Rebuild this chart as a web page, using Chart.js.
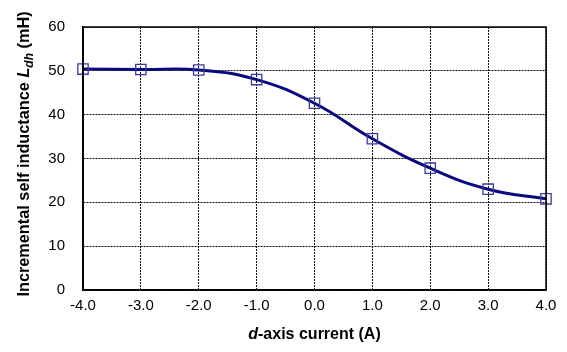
<!DOCTYPE html>
<html><head><meta charset="utf-8">
<script src="https://cdn.jsdelivr.net/npm/chart.js@4/dist/chart.umd.min.js"></script>
<style>html,body{margin:0;padding:0;background:#fff}#wrap{width:567px;height:352px}</style>
</head><body><div id="wrap"><canvas id="c" width="567" height="352"></canvas></div>
<script>
const currents = [-4, -3, -2, -1, 0, 1, 2, 3, 4];
const inductance = [50.4, 50.3, 50.2, 48.0, 42.6, 34.5, 27.8, 23.0, 20.8];
const xTicks = [-4, -3, -2, -1, 0, 1, 2, 3, 4];
const yTicks = [0, 10, 20, 30, 40, 50, 60];

const FONT = '"Liberation Sans", Arial, sans-serif';

const titlesPlugin = {
  id: 'titles',
  afterDraw(chart) {
    const ctx = chart.ctx, a = chart.chartArea;
    ctx.save();
    ctx.strokeStyle = '#000'; ctx.lineWidth = 1.5; ctx.setLineDash([]);
    ctx.strokeRect(a.left, a.top, a.right - a.left, a.bottom - a.top);
    ctx.fillStyle = '#000';
    ctx.textBaseline = 'alphabetic';
    const p1 = 'd', p2 = '-axis current (A)';
    ctx.font = 'italic bold 16px ' + FONT; const w1 = ctx.measureText(p1).width;
    ctx.font = 'bold 16px ' + FONT; const w2 = ctx.measureText(p2).width;
    let x0 = (a.left + a.right) / 2 - (w1 + w2) / 2, y0 = 339;
    ctx.font = 'italic bold 16px ' + FONT; ctx.fillText(p1, x0, y0);
    ctx.font = 'bold 16px ' + FONT; ctx.fillText(p2, x0 + w1, y0);
    const s1 = 'Incremental self inductance ', s2 = 'L', s3 = 'dh', s4 = ' (mH)';
    const f = 'bold 16.3px ' + FONT, fi = 'italic bold 16.3px ' + FONT, fs = 'italic bold 12px ' + FONT;
    ctx.font = f; const m1 = ctx.measureText(s1).width, m4 = ctx.measureText(s4).width;
    ctx.font = fi; const m2 = ctx.measureText(s2).width;
    ctx.font = fs; const m3 = ctx.measureText(s3).width;
    const total = m1 + m2 + m3 + m4;
    ctx.translate(29, 154);
    ctx.rotate(-Math.PI / 2);
    let x = -total / 2;
    ctx.font = f; ctx.fillText(s1, x, 0); x += m1;
    ctx.font = fi; ctx.fillText(s2, x, 0); x += m2;
    ctx.font = fs; ctx.fillText(s3, x, 4); x += m3;
    ctx.font = f; ctx.fillText(s4, x, 0);
    ctx.restore();
  }
};

new Chart(document.getElementById('c'), {
  type: 'line',
  data: {
    datasets: [{
      data: currents.map((c, i) => ({x: c, y: inductance[i]})),
      borderColor: '#0a0a80',
      borderWidth: 3,
      tension: 0.45,
      pointStyle: 'rect',
      pointRadius: 7.3,
      pointBorderWidth: 1.3,
      pointBorderColor: '#3a3aa0',
      pointBackgroundColor: 'rgba(255,255,255,0)',
      clip: false
    }]
  },
  options: {
    responsive: false,
    animation: false,
    events: [],
    layout: {padding: {left: 0, right: 21, top: 10, bottom: 0}},
    plugins: {legend: {display: false}, tooltip: {enabled: false}},
    scales: {
      x: {
        type: 'linear', min: -4, max: 4,
        afterBuildTicks(s) { s.ticks = xTicks.map(v => ({value: v})); },
        afterFit(s) { s.height = 62; },
        grid: {color: '#111', lineWidth: 1, drawTicks: false},
        border: {display: true, color: '#000', width: 1.5, dash: [2, 1]},
        ticks: {color: '#000', font: {family: FONT, size: 15}, padding: 7,
          maxRotation: 0, autoSkip: false, callback: v => v.toFixed(1)}
      },
      y: {
        min: 0, max: 60,
        afterBuildTicks(s) { s.ticks = yTicks.map(v => ({value: v})); },
        afterFit(s) { s.width = 83; },
        grid: {color: '#111', lineWidth: 1, drawTicks: false},
        border: {display: true, color: '#000', width: 1.5, dash: [2, 1]},
        ticks: {color: '#000', font: {family: FONT, size: 15}, padding: 18}
      }
    }
  },
  plugins: [titlesPlugin]
});
</script></body></html>
